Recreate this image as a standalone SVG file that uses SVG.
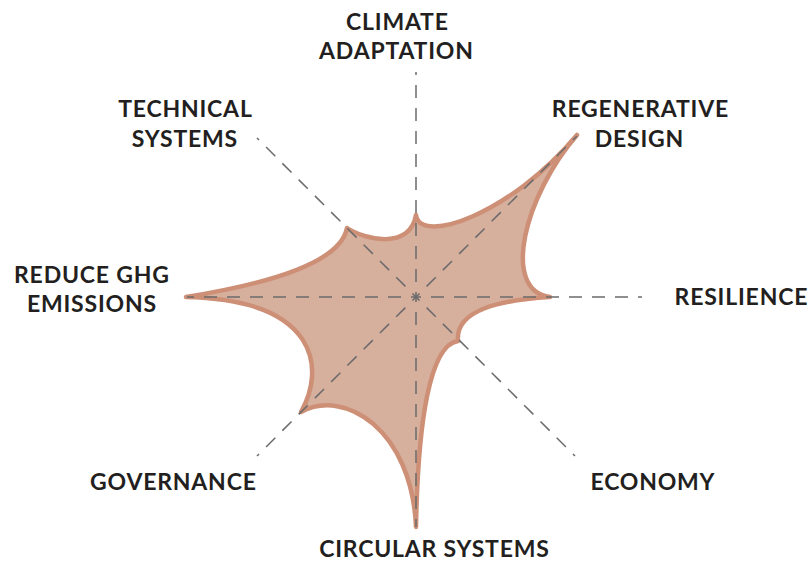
<svg xmlns="http://www.w3.org/2000/svg" width="811" height="563" viewBox="0 0 811 563">
<style>
.axis{stroke:#6b6b6b;stroke-width:1.5;stroke-dasharray:13 10;stroke-dashoffset:8;fill:none}
.shape{fill:#d6af9d;stroke:#cd8f76;stroke-width:4.5;stroke-linejoin:round}
.lbl{font-family:Lato,"Liberation Sans",sans-serif;font-weight:700;font-size:23px;letter-spacing:0.8px;fill:#231f20;text-anchor:middle}
</style>
<rect width="811" height="563" fill="#ffffff"/>
<g id="shape">
<path class="shape" d="M416,215 C420,245 510,215 577,135 C525,195 500,290 550,297 C500,300 455,310 458,341 C430,345 418,420 416,527 C412,430 345,388 301,412 C325,370 320,300 186,297 C260,285 340,265 347,228 C365,240 410,250 416,215 Z"/>
</g>
<g id="connectors">
<line class="axis" x1="416" y1="297" x2="416" y2="72"/>
<line class="axis" x1="416" y1="297" x2="577" y2="136"/>
<line class="axis" x1="416" y1="297" x2="642" y2="297"/>
<line class="axis" x1="416" y1="297" x2="575" y2="456"/>
<line class="axis" x1="416" y1="297" x2="416" y2="527"/>
<line class="axis" x1="416" y1="297" x2="257" y2="456"/>
<line class="axis" x1="416" y1="297" x2="187" y2="297"/>
<line class="axis" x1="416" y1="297" x2="257" y2="138"/>
</g>
<g id="climate-adaptation"><text class="lbl" x="397.4" y="30">CLIMATE</text><text class="lbl" x="396.4" y="59">ADAPTATION</text></g>
<g id="technical-systems"><text class="lbl" x="185.4" y="117">TECHNICAL</text><text class="lbl" x="184.9" y="147">SYSTEMS</text></g>
<g id="regenerative-design"><text class="lbl" x="640.4" y="117">REGENERATIVE</text><text class="lbl" x="639.4" y="147">DESIGN</text></g>
<g id="reduce-ghg"><text class="lbl" x="91.9" y="283">REDUCE GHG</text><text class="lbl" x="91.9" y="312">EMISSIONS</text></g>
<g id="resilience"><text class="lbl" x="741.4" y="305">RESILIENCE</text></g>
<g id="governance"><text class="lbl" x="173.4" y="490">GOVERNANCE</text></g>
<g id="economy"><text class="lbl" x="652.9" y="490">ECONOMY</text></g>
<g id="circular-systems"><text class="lbl" x="434.4" y="557">CIRCULAR SYSTEMS</text></g>
</svg>
